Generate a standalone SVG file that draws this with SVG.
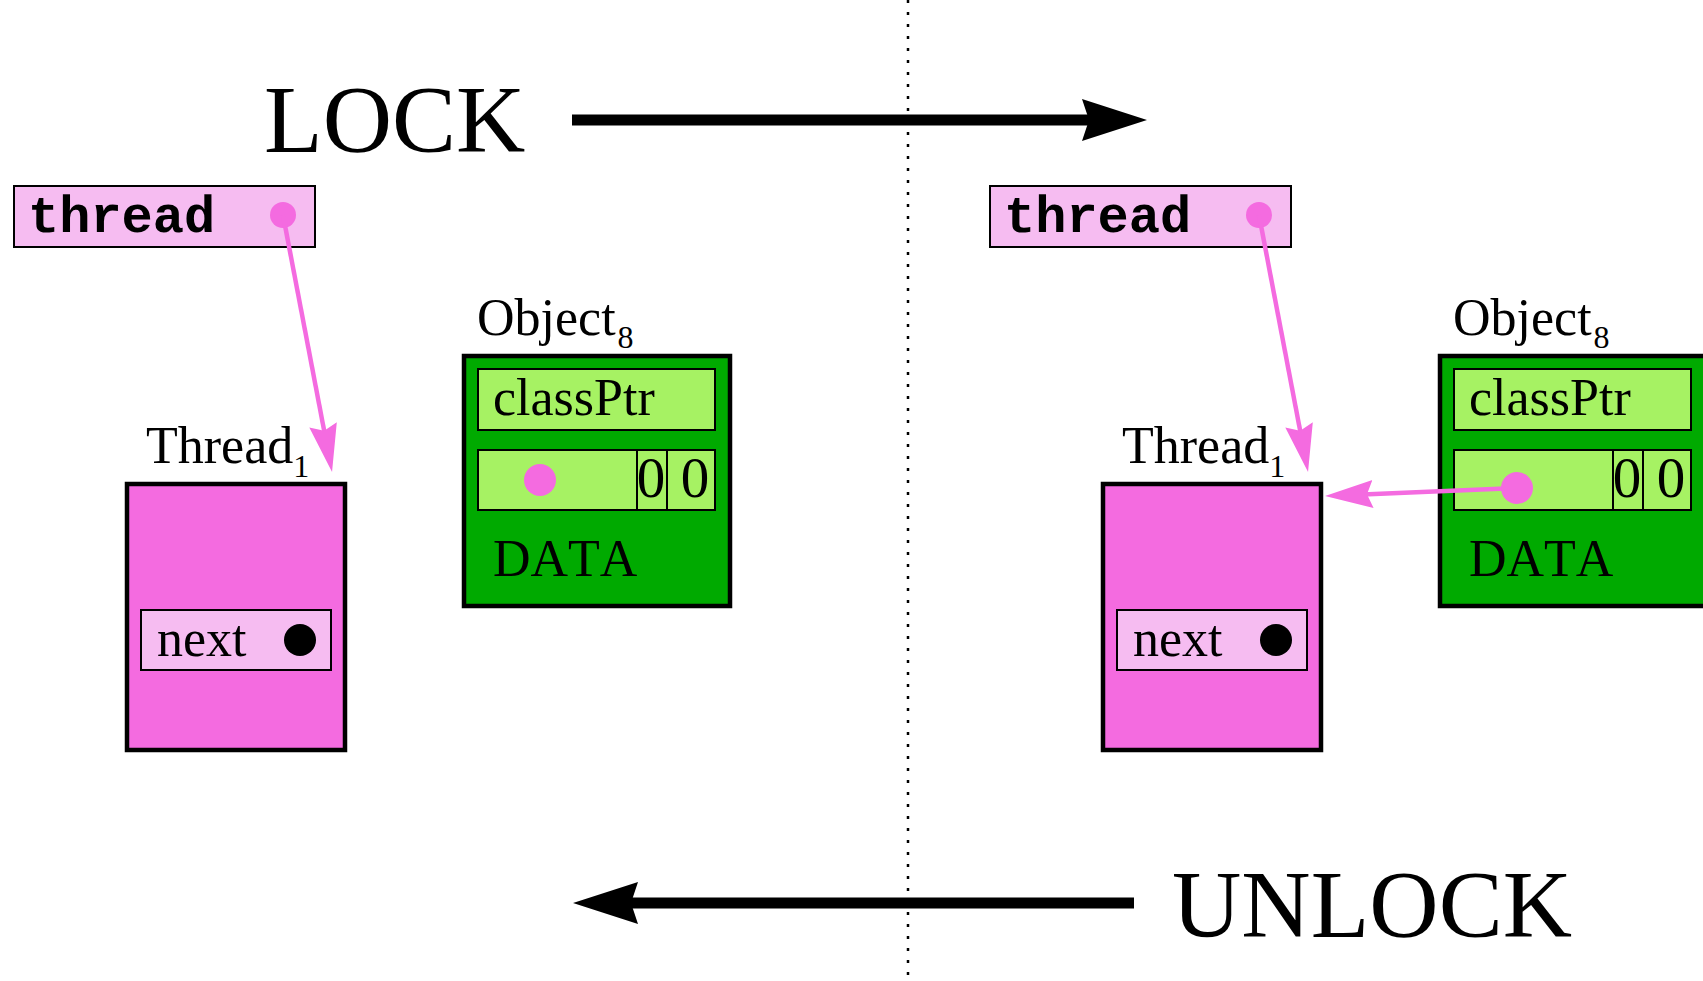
<svg xmlns="http://www.w3.org/2000/svg" width="1703" height="981" viewBox="0 0 1703 981">
  <style>
    .serif { font-family: "Liberation Serif", "Times New Roman", serif; fill: #000; font-kerning: none; }
    .lbl { font-size: 52px; }
    .sub { font-size: 32px; }
    .big { font-size: 96px; }
    .zero { font-size: 57px; text-anchor: middle; }
    .mono { font-family: "Liberation Mono", "Courier New", monospace; font-weight: bold; font-size: 52px; fill: #000; }
    .thick { stroke: #000; stroke-width: 4.5; }
    .thin { stroke: #000; stroke-width: 2; }
    .pinkD { fill: #f46be0; }
    .pinkL { fill: #f6bcf1; }
    .greenD { fill: #00aa00; }
    .greenL { fill: #a6f263; }
    .ptr { stroke: #f46be0; stroke-width: 4.5; fill: none; marker-end: url(#pinkHead); }
    .flow { stroke: #000; stroke-width: 11; fill: none; marker-end: url(#blackHead); }
  </style>
  <defs>
    <marker id="pinkHead" viewBox="0 -15 50 30" refX="28" refY="0" markerWidth="50" markerHeight="30" markerUnits="userSpaceOnUse" orient="auto">
      <path d="M48,0 L0,-14 L6,0 L0,14 Z" fill="#f46be0"/>
    </marker>
    <marker id="blackHead" viewBox="0 -22 66 44" refX="45" refY="0" markerWidth="66" markerHeight="44" markerUnits="userSpaceOnUse" orient="auto">
      <path d="M65,0 L0,-21 L7,0 L0,21 Z" fill="#000"/>
    </marker>
  </defs>

  <rect width="1703" height="981" fill="#fff"/>

  <!-- divider between the two states -->
  <line x1="908" y1="0" x2="908" y2="981" stroke="#000" stroke-width="2.5" stroke-dasharray="3 9"/>

  <!-- transition labels -->
  <text class="serif big" x="264" y="152">LOCK</text>
  <text class="serif big" x="1172" y="937">UNLOCK</text>

  <!-- ===== state before locking ===== -->
  <g id="threadVarA">
    <rect class="pinkL thin" x="14" y="186" width="301" height="61"/>
    <text class="mono" x="28" y="232">thread</text>
    <circle class="pinkD" cx="283" cy="215" r="13"/>
  </g>

  <g id="thread1A">
    <text class="serif lbl" x="146" y="463">Thread<tspan class="sub" dy="14">1</tspan></text>
    <rect class="pinkD thick" x="127" y="484" width="218" height="266"/>
    <rect class="pinkL thin" x="141" y="610" width="190" height="60"/>
    <text class="serif lbl" x="157" y="656">next</text>
    <circle cx="300" cy="640" r="16" fill="#000"/>
  </g>

  <g id="object8A">
    <text class="serif lbl" x="477" y="335">Object<tspan class="sub" dx="2" dy="13">8</tspan></text>
    <rect class="greenD thick" x="464" y="356" width="266" height="250"/>
    <rect class="greenL thin" x="478" y="369" width="237" height="61"/>
    <text class="serif lbl" x="493" y="415">classPtr</text>
    <rect class="greenL thin" x="478" y="450" width="237" height="60"/>
    <line class="thin" x1="637" y1="450" x2="637" y2="510"/>
    <line class="thin" x1="667" y1="450" x2="667" y2="510"/>
    <text class="serif zero" x="651" y="497">0</text>
    <text class="serif zero" x="695" y="497">0</text>
    <circle class="pinkD" cx="540" cy="480" r="16"/>
    <text class="serif lbl" x="493" y="576">DATA</text>
  </g>

  <!-- ===== state after locking ===== -->
  <g id="threadVarB">
    <rect class="pinkL thin" x="990" y="186" width="301" height="61"/>
    <text class="mono" x="1004" y="232">thread</text>
    <circle class="pinkD" cx="1259" cy="215" r="13"/>
  </g>

  <g id="thread1B">
    <text class="serif lbl" x="1122" y="463">Thread<tspan class="sub" dy="14">1</tspan></text>
    <rect class="pinkD thick" x="1103" y="484" width="218" height="266"/>
    <rect class="pinkL thin" x="1117" y="610" width="190" height="60"/>
    <text class="serif lbl" x="1133" y="656">next</text>
    <circle cx="1276" cy="640" r="16" fill="#000"/>
  </g>

  <g id="object8B">
    <text class="serif lbl" x="1453" y="335">Object<tspan class="sub" dx="2" dy="13">8</tspan></text>
    <rect class="greenD thick" x="1440" y="356" width="266" height="250"/>
    <rect class="greenL thin" x="1454" y="369" width="237" height="61"/>
    <text class="serif lbl" x="1469" y="415">classPtr</text>
    <rect class="greenL thin" x="1454" y="450" width="237" height="60"/>
    <line class="thin" x1="1613" y1="450" x2="1613" y2="510"/>
    <line class="thin" x1="1643" y1="450" x2="1643" y2="510"/>
    <text class="serif zero" x="1627" y="497">0</text>
    <text class="serif zero" x="1671" y="497">0</text>
    <text class="serif lbl" x="1469" y="576">DATA</text>
  </g>

  <!-- connectors -->
  <g id="connectors">
    <line class="flow" x1="572" y1="120" x2="1127" y2="120"/>
    <line class="flow" x1="1134" y1="903" x2="593" y2="903"/>
    <line class="ptr" x1="283" y1="215" x2="328.3" y2="452.4"/>
    <line class="ptr" x1="1259" y1="215" x2="1304.3" y2="452.4"/>
    <line class="ptr" x1="1517" y1="488" x2="1345" y2="495.2"/>
    <circle class="pinkD" cx="1517" cy="488" r="16"/>
  </g>
</svg>
